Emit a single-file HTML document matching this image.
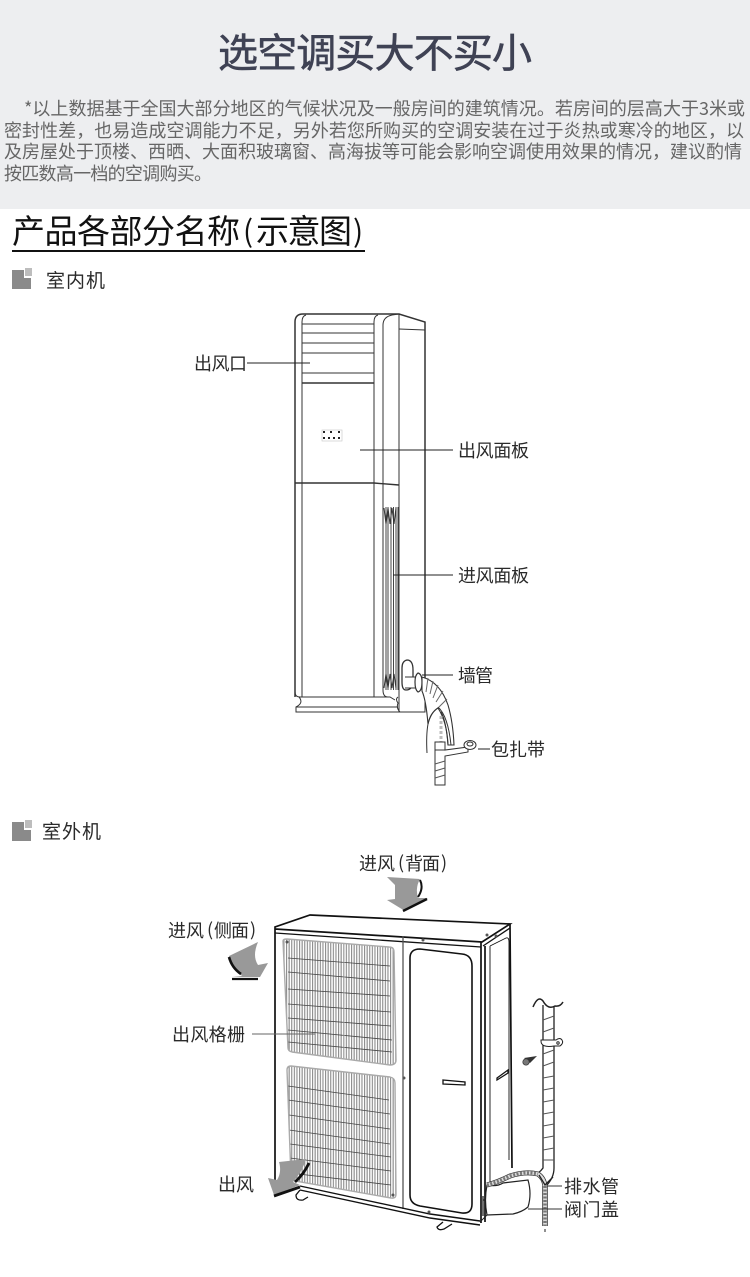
<!DOCTYPE html>
<html><head><meta charset="utf-8"><style>
html,body{margin:0;padding:0;background:#fff}
svg{display:block}
text{font-family:"Noto Sans CJK SC","Liberation Sans",sans-serif}
.l{font-size:18px;fill:#2a2a2a}
.p{font-size:18px;fill:#666}
</style></head><body>
<svg xmlns="http://www.w3.org/2000/svg" width="750" height="1277" viewBox="0 0 750 1277">
<defs>
<pattern id="fins" width="2.6" height="12" patternUnits="userSpaceOnUse" patternTransform="skewY(3)">
<rect width="2.6" height="12" fill="#fff"/><rect width="1.1" height="12" fill="#8a8a8a"/>
</pattern>
<clipPath id="g1"><path d="M283 941Q283 939 287 939L389 947Q394 947 394 952L396 1060Q396 1065 390 1065L292 1052Q288 1051 288 1048Z"/></clipPath>
<clipPath id="g2"><path d="M287 1070Q287 1066 291 1066L390 1077Q395 1078 395 1083L396 1194Q396 1199 391 1198L295 1181Q291 1180 291 1177Z"/></clipPath>
</defs>
<rect width="750" height="1277" fill="#fff"/>
<rect width="750" height="209" fill="#edeef0"/>
<text x="218" y="67" font-size="40" fill="#3f4254" stroke="#3f4254" stroke-width=".6" textLength="314" lengthAdjust="spacing">选空调买大不买小</text>
<text class="p" x="24" y="115" textLength="721" lengthAdjust="spacing">*以上数据基于全国大部分地区的气候状况及一般房间的建筑情况。若房间的层高大于3米或</text>
<text class="p" x="4" y="137" textLength="740" lengthAdjust="spacing">密封性差，也易造成空调能力不足，另外若您所购买的空调安装在过于炎热或寒冷的地区，以</text>
<text class="p" x="4" y="158" textLength="738" lengthAdjust="spacing">及房屋处于顶楼、西晒、大面积玻璃窗、高海拔等可能会影响空调使用效果的情况，建议酌情</text>
<text class="p" x="4" y="180" textLength="208" lengthAdjust="spacing">按匹数高一档的空调购买。</text>
<text x="12" y="243" font-size="33" fill="#111" textLength="228" lengthAdjust="spacing">产品各部分名称</text>
<text x="243" y="242" font-size="30" fill="#111">(</text>
<text x="256" y="243" font-size="33" fill="#111" textLength="96" lengthAdjust="spacing">示意图</text>
<text x="353" y="242" font-size="30" fill="#111">)</text>
<rect x="12" y="250" width="353" height="2" fill="#111"/>

<path d="M12 270H24V278H31V289H12Z" fill="#8a8a8a"/><rect x="25" y="268" width="7" height="8" fill="#bdbdbd"/>
<text x="46" y="287" font-size="19" fill="#2a2a2a" textLength="59">室内机</text>
<path d="M12 822H24V830H31V841H12Z" fill="#8a8a8a"/><rect x="25" y="820" width="7" height="8" fill="#bdbdbd"/>
<text x="42" y="838" font-size="19" fill="#2a2a2a" textLength="59">室外机</text>

<!-- indoor unit -->
<g fill="none" stroke="#333" stroke-width="1">
<path stroke-width="1.5" d="M295 697V322Q295 314 303 314H399L425 322V697"/>
<path d="M302 697V322Q302 316 306 315M374 697V322Q374 316 378 315M383 483V325Q383 317 392 315L399 314V483"/>
<path d="M399 329L425 330"/>
<path d="M383 483V690Q383 697 388 697M399 483V697"/>
<path d="M302 324H374M302 333H374M302 343H374M302 353H374M302 373H374"/>
<path stroke-width="1.6" d="M302 383H374"/>
<path stroke-width="1.4" d="M295 483H374L399 485"/>
<path d="M295 692Q295 697 300 697H390Q395 700 395 700M299 697Q304 703 296 707V712H400Q396 708 398 703Q395 699 398 697M296 707H398M399 697V712H425V697"/>
<path stroke="#444" d="M386 507V690M388 507V690M391 507V690M393.500 507V690M396 507V690M398 507V690"/>
<path stroke="#333" d="M384 508L386 524L388 508L390 524L392 508L394 524L396 508M384 688L386 674L388 688L390 674L392 688L394 674L396 688"/>
<path stroke-width="1.3" d="M407 660Q413 660 413 670V680Q413 690 406 690Q402 690 402 682V668Q402 661 407 660Z"/>
<path fill="#fff" d="M405 677H416V688H405Z" stroke="none"/>
<path d="M405 677H416M405 688H416"/>
<path fill="#fff" stroke-width="1.2" d="M418 673Q422 674 422 682Q422 691 418 692Q415 690 415 682Q415 675 418 673Z"/>
<path fill="#fff" stroke-width="1.1" d="M422 677Q440 682 448 705Q453 722 454 745L448 745Q447 722 438 708Q431 712 428 724Q426 700 422 691Z"/>
<path stroke="#666" d="M428 678L426 692M433 681L430 694M438 685L433 698M443 691L436 702M447 699L439 707"/>
<path d="M438 708Q430 713 428 724Q426 735 427 753"/>
<path d="M438 707Q448 716 451 745"/>
<path d="M441 712Q446 720 448 745"/>
<path stroke="#bbb" stroke-dasharray="3 2" stroke-width="3" d="M441 716V742"/>
<path fill="#fff" d="M435 742H445V750L468 747V752L445 756V785H435Z"/>
<path fill="#fff" stroke="none" d="M436 752H444V756H436Z"/>
<path stroke="#555" d="M435 764L445 761M435 771L445 768M435 778L445 775"/>
<path d="M435 750H445"/>
<ellipse cx="470" cy="745" rx="6" ry="4.500" fill="#fff"/><ellipse cx="470" cy="744" rx="3" ry="2"/>
</g>
<rect x="322" y="430" width="20" height="11" fill="none" stroke="#ccc" stroke-width=".7"/>
<path d="M323 431h2v2h-2zM330 431h2v2h-2zM338 431h2v2h-2zM323 437h2v2h-2zM328 437h2v2h-2zM333 437h2v2h-2zM338 437h2v2h-2z" fill="#222"/>
<g stroke="#222" stroke-width="1" fill="none">
<path d="M247 363H310M360 450H453M393 575H453M422 675H453M478 749H490"/>
</g>
<text class="l" x="194" y="370" textLength="53">出风口</text>
<text class="l" x="458" y="457" textLength="71">出风面板</text>
<text class="l" x="458" y="582" textLength="71">进风面板</text>
<text class="l" x="458" y="682" textLength="35">墙管</text>
<text class="l" x="491" y="756" textLength="54">包扎带</text>

<!-- outdoor unit -->
<rect x="283" y="939" width="113" height="127" fill="url(#fins)" clip-path="url(#g1)"/>
<rect x="287" y="1066" width="109" height="133" fill="url(#fins)" clip-path="url(#g2)"/>
<g clip-path="url(#g1)" stroke="#444" fill="none" stroke-width=".8">
<path d="M288 958L390 966M288 972L390 981M288 989L390 996M288 1004L391 1012M288 1018L391 1026M288 1030L392 1040M288 1042L392 1052"/>
<path stroke="#aaa" d="M344 940V1062"/>
</g>
<g clip-path="url(#g2)" stroke="#444" fill="none" stroke-width=".8">
<path d="M288 1086L389 1100M288 1100L390 1114M289 1115L390 1129M289 1130L390 1144M290 1144L391 1157M290 1158L391 1171M290 1173L391 1185"/>
</g>
<g fill="none" stroke="#aaa" stroke-width="1.4">
<path d="M283 941Q283 939 287 939L389 947Q394 947 394 952L396 1060Q396 1065 390 1065L292 1052Q288 1051 288 1048Z"/>
<path d="M287 1070Q287 1066 291 1066L390 1077Q395 1078 395 1083L396 1194Q396 1199 391 1198L295 1181Q291 1180 291 1177Z"/>
</g>
<g fill="none" stroke="#111" stroke-width="1.3">
<path stroke-width="1.7" d="M275 1180V931L275 927L310 915L510 924L482 942L275 929"/>
<path d="M275 933L481 947M510 928L483 946"/>
<path stroke-width="1.7" d="M481 942V1223M485 946V1222M510 924L512 1168"/>
<path stroke="#555" d="M403 936V1209"/>
<path stroke-width="1.6" d="M410 958Q410 949 420 949L462 954Q472 955 472 966V1204Q472 1214 462 1213L420 1206Q410 1204 410 1195Z"/>
<path stroke-width=".9" d="M490 946L506 938Q509 937 509 942V1160M490 946V1184"/>
<path stroke-width="1.4" d="M300 1190L430 1218L480 1225M300 1186L430 1214L480 1221"/>
<path d="M300 1190L296 1195Q296 1201 303 1200L308 1197"/>
<path d="M443 1222L437 1227Q438 1231 444 1229L452 1224"/>
<path d="M443 1080L465 1082V1085L443 1084ZM497 1078L508 1070V1073L497 1080Z"/>
</g>
<g fill="#555"><circle cx="404" cy="1078" r="1.500"/><circle cx="423" cy="940" r="1.500"/><circle cx="487" cy="935" r="1.500"/><circle cx="496" cy="936" r="1.500"/><circle cx="429" cy="1212" r="1.500"/><circle cx="287" cy="942" r="1.500"/><circle cx="393" cy="1195" r="1.500"/></g>

<!-- drain pipe, valve cover -->
<g fill="none" stroke="#222" stroke-width="1">
<path fill="#fff" stroke-width="1.2" d="M487 1185Q497 1187 503 1183L528 1180Q532 1194 528 1207Q522 1212 513 1214L487 1215Q484 1200 487 1185Z"/>
<path stroke-width="1.3" d="M543 1005V1168Q541 1171 538 1173M554 1006V1168Q554 1178 546 1186"/>
<path stroke="#555" d="M543 1020L554 1016M543 1032L554 1028M543 1054L554 1050M543 1066L554 1062M543 1078L554 1076M543 1090L554 1088M543 1102L554 1100M543 1114L554 1112M543 1126L554 1124M543 1138L554 1136M543 1150L554 1148M543 1160L554 1160"/>
<path stroke-width="1.500" d="M533 1007Q538 995 543 1001Q548 1010 555 1006Q560 1007 563 1002"/>
<path fill="#fff" d="M541 1041Q541 1048 554 1046L560 1046Q564 1043 562 1040Q560 1037 556 1040H541Z"/>
<circle cx="558" cy="1043" r="1.200"/>
<path stroke="#333" stroke-width="5" d="M487 1185Q498 1182 510 1176Q525 1171 538 1174Q544 1178 545 1186"/>
<path stroke="#ddd" stroke-width="3.600" d="M487 1185Q498 1182 510 1176Q525 1171 538 1174Q544 1178 545 1186"/>
<path stroke="#777" stroke-width="3.200" stroke-dasharray="2 1.500" d="M487 1185Q498 1182 510 1176Q525 1171 538 1174"/>
<path stroke="#333" stroke-width="5.500" d="M545 1186V1226"/>
<path stroke="#ddd" stroke-width="3.800" d="M545 1186V1226"/>
<path stroke="#777" stroke-width="3.400" stroke-dasharray="2 1.500" d="M545 1186V1226"/>
<path d="M539 1175L545 1185L553 1177" stroke-width="1.300"/>
<path d="M545 1229V1232"/>
<path stroke-width="1.300" d="M483 1200H486M483 1196V1216"/>
<path d="M487 1215L480 1222"/>
</g>
<path d="M524 1058L537 1056L530 1063Z" fill="#333"/><circle cx="526" cy="1062" r="3.200" fill="#777" stroke="#333" stroke-width=".7"/>

<!-- arrows -->
<path d="M387 877L420 879Q415 888 418 898H428L405 911L387 900L395 899V885Z" fill="#999"/>
<path d="M420 880Q424 888 418 897" fill="none" stroke="#111" stroke-width="2"/>
<path d="M403 911L427 899" fill="none" stroke="#111" stroke-width="2.400"/>
<path d="M258 942L229 956Q232 967 242 976L232 977H260L268 963L258 965Q252 956 258 942Z" fill="#999"/>
<path d="M229 957Q232 968 241 974" fill="none" stroke="#111" stroke-width="2.600"/>
<path d="M232 979H258" fill="none" stroke="#111" stroke-width="2.200"/>
<path d="M279 1162L306 1159Q302 1172 293 1182L300 1185L274 1195L268 1178L277 1180Q282 1172 279 1162Z" fill="#999"/>
<path d="M309 1163Q304 1174 295 1182M274 1196L300 1187" fill="none" stroke="#111" stroke-width="2.800"/>

<g stroke="#333" fill="none" stroke-width="1">
<path stroke="#666" d="M252 1034H315"/>
<path d="M547 1186H562M528 1209H562"/>
</g>
<text class="l" x="359" y="870" textLength="36">进风</text>
<text class="l" x="398" y="869">(</text>
<text class="l" x="405" y="870" textLength="35">背面</text>
<text class="l" x="441" y="869">)</text>
<text class="l" x="168" y="937" textLength="36">进风</text>
<text class="l" x="207" y="936">(</text>
<text class="l" x="214" y="937" textLength="35">侧面</text>
<text class="l" x="250" y="936">)</text>
<text class="l" x="172" y="1041" textLength="73">出风格栅</text>
<text class="l" x="218" y="1191" textLength="36">出风</text>
<text class="l" x="564" y="1193" textLength="55">排水管</text>
<text class="l" x="564" y="1216" textLength="55">阀门盖</text>
</svg>
</body></html>
